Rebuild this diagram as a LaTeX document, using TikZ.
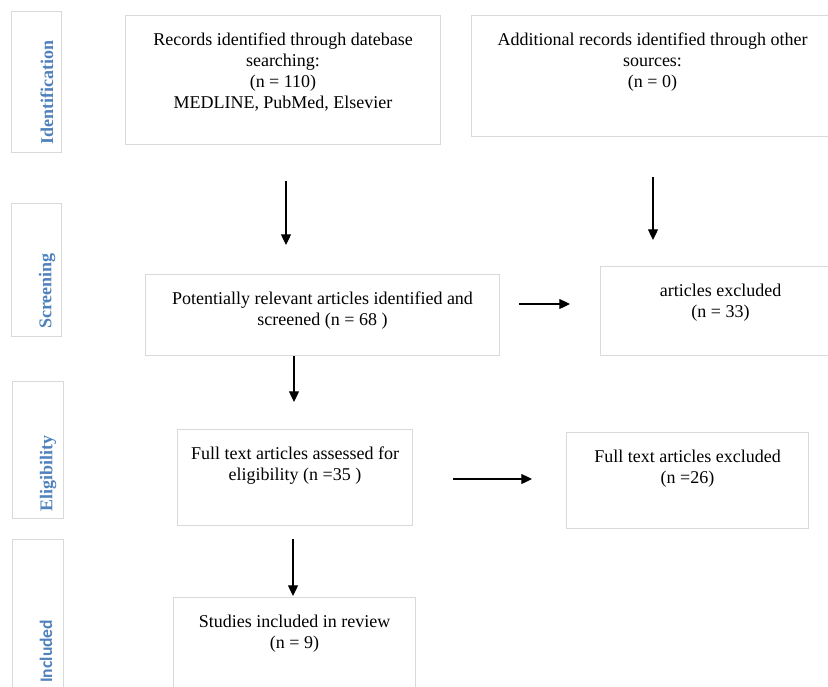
\documentclass[tikz,border=0pt]{standalone}
\usepackage{fontspec}
\setmainfont{Liberation Serif}
\newfontfamily\calibrifont{Carlito}
\usetikzlibrary{arrows.meta}
\definecolor{boxgray}{RGB}{217,217,217}
\definecolor{phaseblue}{RGB}{79,129,189}
\newdimen\pxu \pxu=0.75pt
\newcommand{\boxtext}[3]{\parbox[c][#2\pxu][t]{#1\pxu}{\centering\vspace*{11.5pt}\strut #3}}

\begin{document}
\begin{tikzpicture}[x=0.75pt,y=-0.75pt,
  stage/.style={draw=boxgray,line width=0.75pt,inner sep=0pt,anchor=north west,
    font=\fontsize{13.5}{15.75}\selectfont},
  phase/.style={rotate=90,anchor=west,inner sep=0pt,text=phaseblue,
    font=\fontsize{13.5}{15.75}\selectfont\bfseries},
  side/.style={draw=boxgray,line width=0.75pt},
  flow/.style={line width=0.9pt,-{Triangle[length=8pt,width=7.5pt]}}]
\useasboundingbox (0,0) rectangle (828,686);
\draw[side] (11,11) rectangle (61,152);
\draw[side] (11,203) rectangle (61,336);
\draw[side] (12,381) rectangle (63,518);
\draw[side] (12,539) rectangle (63,692);
\node[phase] (ident) at (47,145) {Identification};
\node[phase] (screen) at (47,329) {Screening};
\node[phase] (elig) at (48,512) {Eligibility};
\node[phase] (incl) at (46,683) {\calibrifont\bfseries\fontsize{13.2}{15.75}\selectfont Included};
\node[stage] (records) at (125,15) {\boxtext{315}{129}{Records identified through datebase\\ searching:\\ (n = 110)\\ MEDLINE, PubMed, Elsevier}};
\node[stage] (other) at (471,15) {\boxtext{362}{121}{Additional records identified through other\\ sources:\\ (n = 0)}};
\node[stage] (screened) at (145,274) {\boxtext{354}{81}{Potentially relevant articles identified and\\ screened (n = 68 )}};
\node[stage] (excl) at (600,266) {\boxtext{240}{89}{articles excluded\\ (n = 33)}};
\node[stage] (fulltext) at (177,429) {\boxtext{235}{96}{Full text articles assessed for\\ eligibility (n =35 )}};
\node[stage] (fullexcl) at (566,432) {\boxtext{242}{96}{Full text articles excluded\\ (n =26)}};
\node[stage] (included) at (173,597) {\boxtext{242}{95}{Studies included in review\\ (n = 9)}};
\coordinate (a1) at (286,181);
\coordinate (b1) at (286,245);
\coordinate (a2) at (653,177);
\coordinate (b2) at (653,240);
\coordinate (a3) at (519,304);
\coordinate (b3) at (570,304);
\coordinate (a4) at (294,356);
\coordinate (b4) at (294,402);
\coordinate (a5) at (453,479);
\coordinate (b5) at (532,479);
\coordinate (a6) at (293,539);
\coordinate (b6) at (293,596);
\draw[flow] (a1) -- (b1);
\draw[flow] (a2) -- (b2);
\draw[flow] (a3) -- (b3);
\draw[flow] (a4) -- (b4);
\draw[flow] (a5) -- (b5);
\draw[flow] (a6) -- (b6);
\end{tikzpicture}
\end{document}
